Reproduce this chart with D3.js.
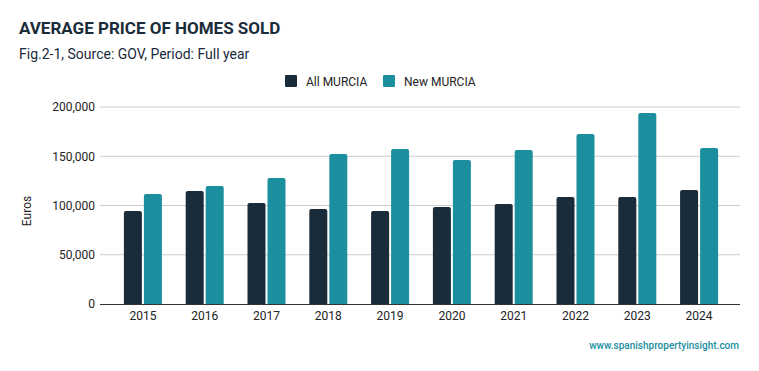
<!DOCTYPE html>
<html><head><meta charset="utf-8">
<script src="https://cdn.jsdelivr.net/npm/d3@7/dist/d3.min.js"></script>
<style>body{margin:0;background:#fff;}svg{display:block;font-family:Roboto,sans-serif;}</style>
</head><body><svg id="c" width="759" height="371"></svg>
<script>
const years = ["2015","2016","2017","2018","2019","2020","2021","2022","2023","2024"];
const allMurcia = [94400,114700,102500,96400,94400,98500,101500,108600,108600,115700];
const newMurcia = [111700,119800,127900,152300,157400,146200,156300,172600,193900,158400];
const seriesNames = ["All MURCIA","New MURCIA"];
const yTicks = [0,50000,100000,150000,200000];

(function(){
const colors = ["#1a2b3a","#1c8f9e"];
const svg = d3.select("#c");
const pLeft = 100, pRight = 740, pTop = 107, pBottom = 304;

svg.append("text").attr("x",19).attr("y",34).attr("font-size",17).attr("font-weight",700).attr("fill","#1a2b3a").text("AVERAGE PRICE OF HOMES SOLD");
svg.append("text").attr("x",19).attr("y",59).attr("font-size",14).attr("fill","#1a2b3a").text("Fig.2-1, Source: GOV, Period: Full year");

const y = d3.scaleLinear().domain([0,200000]).range([pBottom,pTop]);
const x = d3.scaleBand().domain(years).range([112,730]).paddingInner(0.385).paddingOuter(0.1925);
const x1 = d3.scaleBand().domain(seriesNames).range([0,x.bandwidth()]).paddingInner(0.1);

svg.append("g").selectAll("line").data(yTicks.slice(1)).join("line")
  .attr("x1",pLeft).attr("x2",pRight).attr("y1",d=>y(d)).attr("y2",d=>y(d))
  .attr("stroke","#cccccc").attr("stroke-width",1);

const yAxis = svg.append("g").attr("transform",`translate(${pLeft},0)`)
  .call(d3.axisLeft(y).tickValues(yTicks).tickSize(0).tickPadding(5).tickFormat(d3.format(",")));
yAxis.select(".domain").remove();
yAxis.selectAll("text").attr("font-size",12).attr("fill","#222").attr("font-family","Roboto,sans-serif");

svg.append("text").attr("transform","translate(30.5,211) rotate(-90)").attr("text-anchor","middle")
  .attr("font-size",12).attr("fill","#222").text("Euros");

const data = years.map((yr,i)=>({yr, vals:[allMurcia[i],newMurcia[i]]}));
const r = 2;
function barPath(x0,w,y0,y1){
  return `M${x0},${y1}V${y0+r}Q${x0},${y0} ${x0+r},${y0}H${x0+w-r}Q${x0+w},${y0} ${x0+w},${y0+r}V${y1}Z`;
}
const g = svg.append("g");
data.forEach(d=>{
  d.vals.forEach((v,j)=>{
    const bx = x(d.yr)+x1(seriesNames[j]);
    g.append("path").attr("d",barPath(bx,x1.bandwidth(),y(v),y(0))).attr("fill",colors[j]);
  });
});

svg.append("line").attr("x1",pLeft).attr("x2",pRight).attr("y1",y(0)+0.5).attr("y2",y(0)+0.5).attr("stroke","#333").attr("stroke-width",1.2);

const xAxis = svg.append("g").attr("transform",`translate(0,${pBottom})`)
  .call(d3.axisBottom(x).tickSize(0).tickPadding(7));
xAxis.select(".domain").remove();
xAxis.selectAll("text").attr("font-size",12).attr("fill","#222").attr("font-family","Roboto,sans-serif");

const leg = [{x:285,name:seriesNames[0],c:colors[0]},{x:383,name:seriesNames[1],c:colors[1]}];
leg.forEach(l=>{
  svg.append("rect").attr("x",l.x).attr("y",75).attr("width",12).attr("height",12).attr("rx",1).attr("fill",l.c);
  svg.append("text").attr("x",l.x+21).attr("y",86).attr("font-size",12).attr("fill","#222").text(l.name);
});

svg.append("text").attr("x",739).attr("y",349).attr("text-anchor","end").attr("font-size",10).attr("font-weight",500)
  .attr("fill","#1c8f9e").text("www.spanishpropertyinsight.com");
})();
</script></body></html>
